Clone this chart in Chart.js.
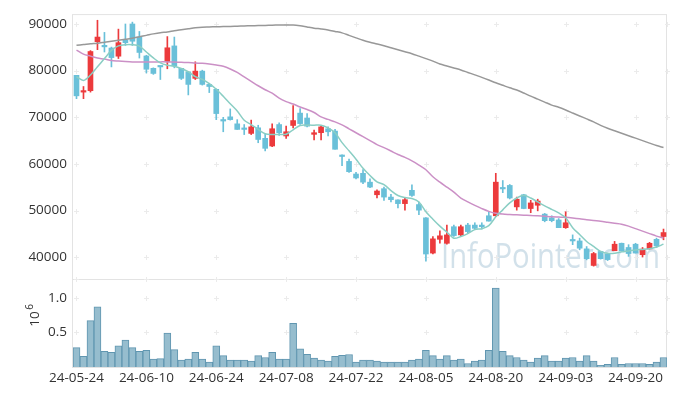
<!DOCTYPE html>
<html>
<head>
<meta charset="utf-8">
<script src="https://cdn.jsdelivr.net/npm/chart.js@4.4.1/dist/chart.umd.min.js"></script>
<style>
  html, body { margin: 0; padding: 0; background: #fff; }
</style>
</head>
<body>
<canvas id="chart" width="677" height="396"></canvas>
<script>
// trading days (Korean market, holidays skipped)
const dates = [
  "24-05-24","24-05-27","24-05-28","24-05-29","24-05-30","24-05-31",
  "24-06-03","24-06-04","24-06-05","24-06-07","24-06-10","24-06-11","24-06-12","24-06-13","24-06-14",
  "24-06-17","24-06-18","24-06-19","24-06-20","24-06-21","24-06-24","24-06-25","24-06-26","24-06-27","24-06-28",
  "24-07-01","24-07-02","24-07-03","24-07-04","24-07-05","24-07-08","24-07-09","24-07-10","24-07-11","24-07-12",
  "24-07-15","24-07-16","24-07-17","24-07-18","24-07-19","24-07-22","24-07-23","24-07-24","24-07-25","24-07-26",
  "24-07-29","24-07-30","24-07-31",
  "24-08-01","24-08-02","24-08-05","24-08-06","24-08-07","24-08-08","24-08-09","24-08-12","24-08-13","24-08-14",
  "24-08-16","24-08-19","24-08-20","24-08-21","24-08-22","24-08-23","24-08-26","24-08-27","24-08-28","24-08-29","24-08-30",
  "24-09-02","24-09-03","24-09-04","24-09-05","24-09-06","24-09-09","24-09-10","24-09-11","24-09-12","24-09-13",
  "24-09-19","24-09-20","24-09-23","24-09-24","24-09-25","24-09-26"
];

const opens = [
  79000,75400,75700,86200,85300,84850,83100,86600,90000,87200,
  83150,80500,80950,81900,85300,80500,79750,78350,79900,77050,
  76000,69400,70100,68600,67550,66550,67750,65500,63850,68450,
  66000,68250,70900,69850,66350,66700,67550,67050,61900,60550,
  57850,58000,56100,53400,54700,52900,52300,51500,54350,51300,
  48450,40900,43850,43000,46550,44800,46900,46900,46900,48900,
  48900,54800,55400,50800,53400,50450,51150,49250,48450,48000,
  46350,43750,43500,41800,38250,41250,40700,41400,43000,42100,
  42800,40550,41800,43850,44450
];
const highs = [
  79000,76600,84300,90800,88200,85050,88900,90000,90400,88400,
  83300,80600,81000,87300,87200,80500,79800,81900,80100,77300,
  76100,70000,71800,69500,68450,69400,68300,66550,68600,68800,
  68100,72500,71850,70800,67250,68100,67950,67400,61950,61050,
  58200,58800,56800,54450,55050,53500,52300,52800,55550,51850,
  48500,44450,45650,46900,46900,46900,47250,47400,47400,49750,
  58000,56450,55600,52900,53500,52200,52450,49400,48900,48300,
  49750,44800,44100,42300,41050,41300,40800,43400,43050,42700,
  43000,42100,43200,44100,46050
];
const lows = [
  74000,74000,75400,84500,84000,80800,82600,85400,85400,82700,
  79500,79200,78100,80400,80600,78100,74800,78100,76900,75300,
  69500,66900,69400,67400,66300,66300,64550,62800,63700,66100,
  65500,67750,68450,67950,65150,65150,66000,63150,59650,58200,
  56800,55750,54900,52700,52200,51850,50600,50100,53050,49150,
  39150,40700,43000,42800,44450,44600,45150,46000,46050,47750,
  48700,53850,52500,50100,50400,49550,49950,47600,47600,46350,
  46200,42700,41600,39450,38100,39600,39300,41400,41300,40200,
  40900,40050,41750,42100,43750
];
const closes = [
  74600,75700,84100,87200,85100,82800,86000,86000,86300,83900,
  80300,79400,80800,84900,81000,78350,77050,79900,77050,76600,
  70800,69200,69500,67400,67400,67950,65250,63350,67550,66700,
  66900,69300,68650,68100,66700,67950,66900,63150,61600,58350,
  57000,56100,55050,54200,52900,52350,51500,52350,53250,50100,
  40700,43950,44600,44800,44650,46550,45500,46200,46550,47750,
  56100,54650,52700,52450,50450,51650,52050,47850,47850,46350,
  47400,43500,41950,39700,40800,39700,39500,42800,41400,40800,
  40900,41750,43000,42450,45300
];
const volumes = [
  280000,155000,670000,870000,225000,210000,305000,390000,280000,225000,
  240000,113000,120000,490000,250000,100000,113000,210000,113000,70000,
  305000,165000,100000,100000,100000,85000,165000,137000,210000,113000,
  113000,630000,263000,183000,127000,100000,85000,155000,170000,180000,
  70000,100000,100000,85000,70000,70000,70000,70000,100000,113000,
  240000,165000,113000,165000,100000,113000,50000,85000,100000,240000,
  1140000,225000,165000,137000,100000,70000,127000,165000,85000,85000,
  127000,137000,85000,165000,85000,24000,38000,137000,38000,50000,
  50000,50000,38000,70000,137000
];

// moving averages
const maShort = [
  78700,77900,79050,80830,82580,84340,85300,85550,85550,85270,
  84000,82730,81670,81170,80950,80460,79760,78700,78130,77200,
  76000,74500,72900,71350,69380,68450,67390,66480,66330,66330,
  66370,67330,68240,68320,68320,68320,67750,66690,64570,62810,
  61030,59060,57510,56160,55570,54300,53240,52810,52600,51860,
  49740,48150,46670,45400,44080,44440,45070,45920,46130,46770,
  48680,50160,51650,52700,53280,52700,51860,51010,50270,49530,
  48470,46350,44870,43380,42320,41260,40840,40840,41160,41370,
  41580,41690,41830,42210,42810
];
const maMid = [
  84390,83540,83110,82690,82480,82160,82050,81950,81880,81880,
  81880,81880,81880,81880,81840,81780,81740,81630,81570,81420,
  81210,80930,80360,79620,78670,77710,76760,75910,75170,74110,
  73370,72840,72200,71670,71030,70080,69550,69020,68390,67540,
  66690,65840,65000,64150,63510,62780,62030,61400,60660,59760,
  58750,57260,56100,55040,53980,52700,51860,51110,50440,49840,
  49420,49250,49170,49100,49030,48980,48890,48790,48680,48620,
  48560,48430,48260,48040,47870,47720,47510,47300,47090,46670,
  46140,45610,45070,44540,44120
];
const maLong = [
  85440,85590,85760,85870,86080,86290,86500,86720,86930,87250,
  87560,87880,88140,88300,88560,88770,88980,89190,89320,89360,
  89410,89450,89470,89530,89580,89620,89660,89700,89750,89770,
  89790,89790,89620,89360,89110,88940,88730,88410,88090,87560,
  87030,86500,86080,85720,85340,84910,84490,84070,83640,83110,
  82580,82050,81420,80990,80570,80150,79620,79090,78560,77990,
  77390,76860,76330,75840,75210,74530,73900,73260,72620,72140,
  71560,70930,70290,69660,69020,68280,67640,67110,66580,66050,
  65530,65000,64470,63940,63510
];

const priceTicks = [40000, 50000, 60000, 70000, 80000, 90000];
const volTicks = [500000, 1000000];

const UP = "rgb(236,58,60)";
const DOWN = "rgb(106,192,217)";
const candleColors = closes.map((c, i) => c >= opens[i] ? UP : DOWN);
const FONT = { family: "'Open Sans', 'Noto Sans', sans-serif", size: 13.5 };

// grid crosses, frame, watermark and the 10^6 label
const decor = {
  id: "decor",
  beforeDatasetsDraw(chart) {
    const { ctx, chartArea: a, scales } = chart;
    const yP = scales.y, yV = scales.vol, x = scales.x;
    ctx.save();

    // watermark
    ctx.font = "34px 'Open Sans', sans-serif";
    ctx.fillStyle = "rgba(165,196,214,0.5)";
    ctx.textBaseline = "alphabetic";
    const wm = "InfoPointer.com";
    const w = ctx.measureText(wm).width;
    ctx.save();
    ctx.translate(441, yP.bottom - 11);
    ctx.scale(219 / w, 1);
    ctx.fillText(wm, 0, 0);
    ctx.restore();

    // frame
    ctx.strokeStyle = "#e3e3e3";
    ctx.lineWidth = 1;
    ctx.strokeRect(a.left - 0.5, a.top + 0.5, a.right - a.left, a.bottom - a.top);
    ctx.beginPath();
    ctx.moveTo(a.left, yP.bottom + 0.5);
    ctx.lineTo(a.right, yP.bottom + 0.5);
    ctx.stroke();

    // crosses
    const xs = dates.map((d, i) => i).filter(i => i % 10 === 0).map(i => x.getPixelForValue(i));
    xs.push(a.right);
    const ys = priceTicks.map(v => yP.getPixelForValue(v))
      .concat([yP.bottom])
      .concat(volTicks.map(v => yV.getPixelForValue(v)));
    ctx.strokeStyle = "#ebebeb";
    ctx.beginPath();
    xs.forEach(px => {
      ys.forEach(py => {
        const cx = Math.round(px) + 0.5, cy = Math.round(py) + 0.5;
        ctx.moveTo(cx - 2.5, cy); ctx.lineTo(cx + 2.5, cy);
        ctx.moveTo(cx, cy - 2.5); ctx.lineTo(cx, cy + 2.5);
      });
    });
    ctx.stroke();

    // volume unit
    ctx.fillStyle = "#333";
    ctx.translate(39, (yV.top + yV.bottom) / 2 - 7);
    ctx.rotate(-Math.PI / 2);
    ctx.textAlign = "center";
    ctx.font = "13.5px 'Open Sans', sans-serif";
    ctx.fillText("10", -3, 0);
    ctx.font = "10px 'Open Sans', sans-serif";
    ctx.fillText("6", 9, -6);
    ctx.restore();
  }
};

new Chart(document.getElementById("chart"), {
  type: "bar",
  data: {
    labels: dates,
    datasets: [
      { type: "line", data: maShort, yAxisID: "y", borderColor: "rgb(138,206,196)", borderWidth: 1.5,
        pointRadius: 0, tension: 0.3, order: 0 },
      { type: "line", data: maMid, yAxisID: "y", borderColor: "rgb(203,144,198)", borderWidth: 1.5,
        pointRadius: 0, tension: 0.3, order: 0 },
      { type: "line", data: maLong, yAxisID: "y", borderColor: "rgb(152,152,152)", borderWidth: 1.5,
        pointRadius: 0, tension: 0.3, order: 0 },
      { data: opens.map((o, i) => [o, closes[i]]), yAxisID: "y", backgroundColor: candleColors,
        barThickness: 5, minBarLength: 1.5, grouped: false, order: 1 },
      { data: lows.map((l, i) => [l, highs[i]]), yAxisID: "y", backgroundColor: candleColors,
        barThickness: 1, grouped: false, order: 2 },
      { data: volumes, yAxisID: "vol", backgroundColor: "rgba(150,189,206,1)", borderColor: "rgb(96,150,176)",
        borderWidth: 1, categoryPercentage: 1, barPercentage: 1, grouped: false, order: 3 }
    ]
  },
  options: {
    responsive: false,
    animation: false,
    devicePixelRatio: 1,
    layout: { padding: { left: 10, right: 10, top: 10, bottom: 0 } },
    plugins: { legend: { display: false }, tooltip: { enabled: false } },
    scales: {
      x: {
        offset: true,
        grid: { display: false, drawTicks: false },
        border: { display: false },
        ticks: {
          autoSkip: false, maxRotation: 0, minRotation: 0, padding: 3, color: "#333", font: FONT,
          callback: (v, i) => i % 10 === 0 ? dates[i] : ""
        },
        afterFit: s => { s.height = 29; }
      },
      vol: {
        position: "left", stack: "panes", stackWeight: 89,
        min: 0, max: 1270000,
        grid: { display: false, drawTicks: false }, border: { display: false },
        afterBuildTicks: s => { s.ticks = volTicks.map(v => ({ value: v })); },
        ticks: { autoSkip: false, color: "#333", font: FONT, padding: 6, callback: v => (v / 1e6).toFixed(1) },
        afterFit: s => { s.width = 63; }
      },
      y: {
        position: "left", stack: "panes", stackWeight: 268,
        min: 35340, max: 92120,
        grid: { display: false, drawTicks: false }, border: { display: false },
        afterBuildTicks: s => { s.ticks = priceTicks.map(v => ({ value: v })); },
        ticks: { autoSkip: false, color: "#333", font: FONT, padding: 6, callback: v => String(v) },
        afterFit: s => { s.width = 63; }
      }
    }
  },
  plugins: [decor]
});
</script>
</body>
</html>
